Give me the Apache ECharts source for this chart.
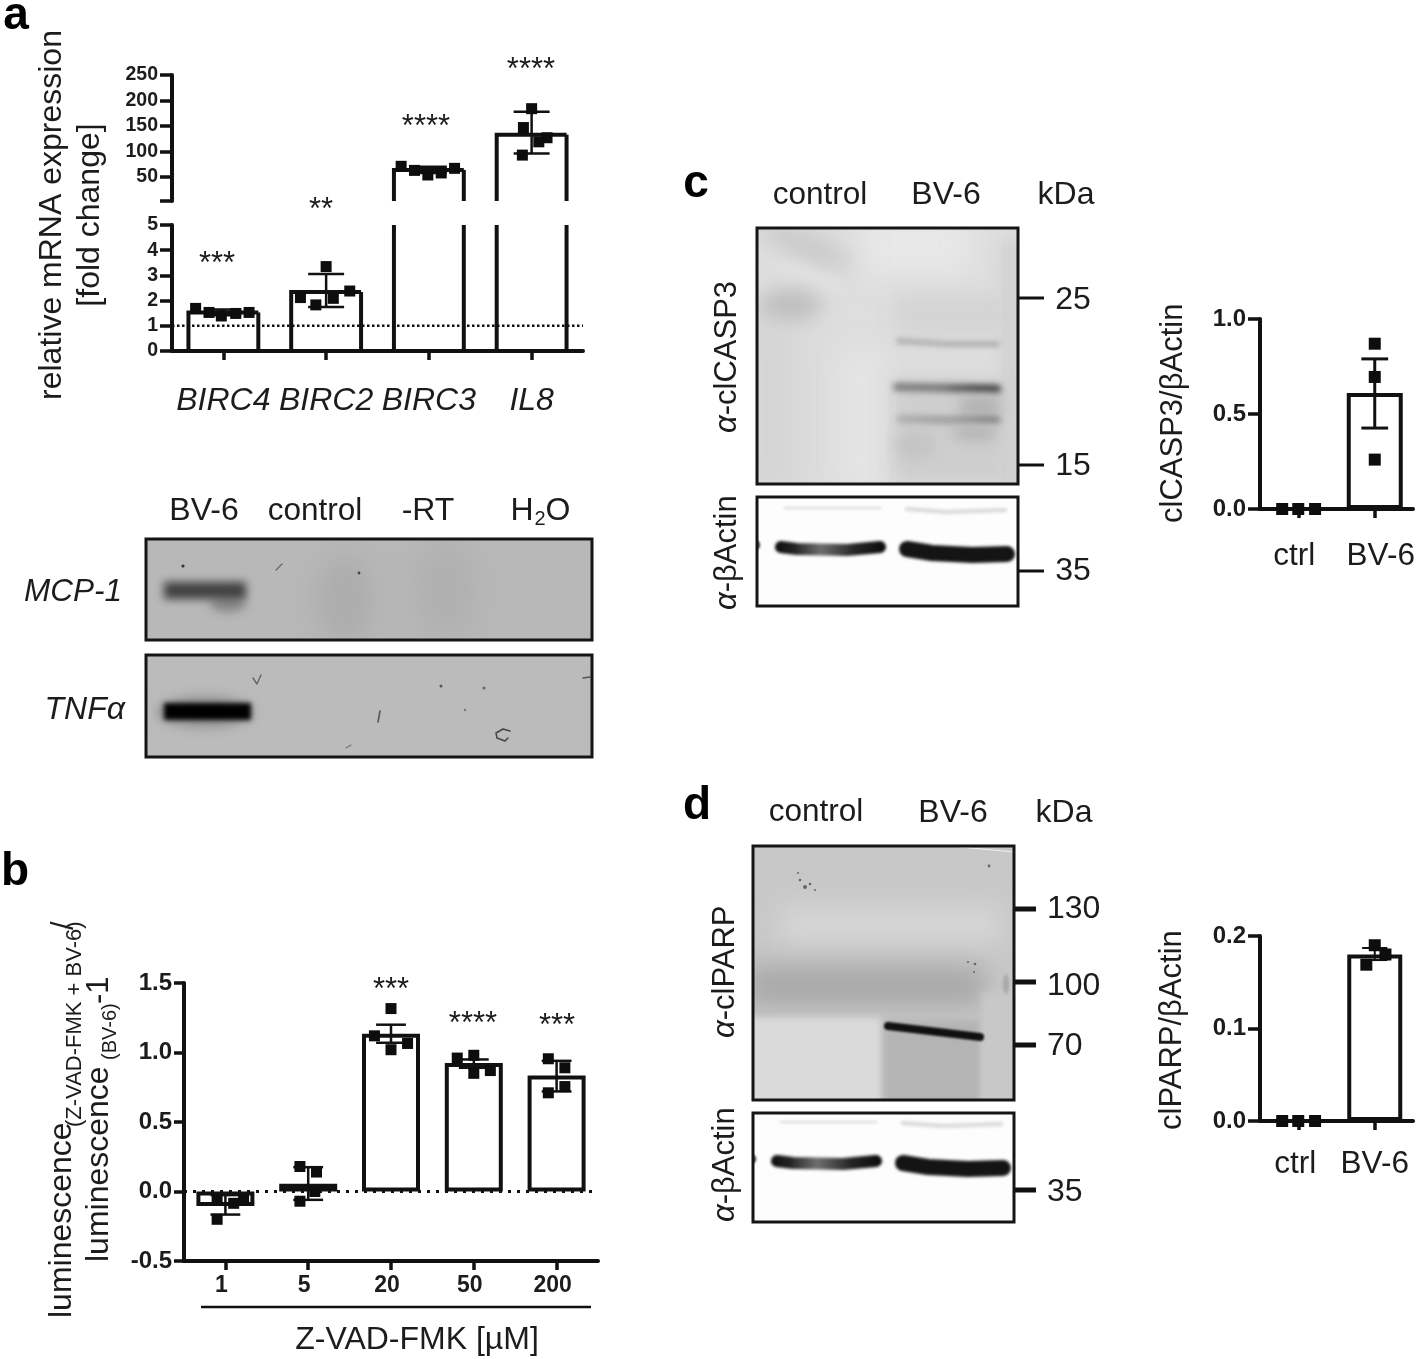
<!DOCTYPE html>
<html><head><meta charset="utf-8">
<script src="https://cdn.jsdelivr.net/npm/echarts@6/dist/echarts.min.js"></script>
<style>html,body{margin:0;padding:0;background:#fff}#c{width:1418px;height:1359px;filter:blur(0.4px)}</style>
</head><body><div id="c"></div>
<script>
// ---------- panel a data ----------
const aCategories = ['BIRC4','BIRC2','BIRC3','IL8'];
const aMeans = [1.53, 2.34, 64, 133];
const aLow   = [1.42, 1.75, 58, 96];
const aHigh  = [1.65, 3.06, 70, 178];
const aPointsLow = [[-0.27,1.69],[-0.14,1.53],[-0.02,1.39],[0.12,1.49],[0.25,1.53],
                    [0.75,2.12],[0.9,1.83],[1,3.35],[1.07,2.09],[1.23,2.38]];
const aPointsHighX = [1.73,1.86,1.99,2.12,2.25, 3,2.92,3.15,3.07,2.91];
const aPointsHighY = [71,63,54,58,67, 184,147,127,119,93];
const aRefLine = 1;
const aUpperTicks = [3,50,100,150,200,250];
const aUpperLabels = [50,100,150,200,250];
// ---------- panel b data ----------
const bCategories = ['1','5','20','50','200'];
const bMeans = [-0.105, 0.055, 1.135, 0.925, 0.835];
const bLow   = [-0.166,-0.06, 1.07, 0.89, 0.72];
const bHigh  = [-0.026, 0.175, 1.2, 0.95, 0.94];
const bPoints = [[-0.1,-0.06],[0.1,-0.085],[0.22,-0.06],[-0.1,-0.2],
                 [0.9,0.18],[1.1,0.14],[1.08,0.0],[0.9,-0.07],
                 [2,1.316],[1.8,1.12],[2.2,1.065],[2,1.02],
                 [2.8,0.96],[3,0.98],[3,0.85],[3.2,0.87],
                 [3.9,0.955],[4.1,0.89],[4.1,0.755],[3.9,0.71]];
// ---------- panel c data ----------
const cCategories = ['ctrl','BV-6'];
const cMeans = [0, 0.61];
const cLow   = [0, 0.426];
const cHigh  = [0, 0.79];
const cPoints = [[-0.21,0],[0,0],[0.22,0],[1,0.87],[1,0.695],[1,0.26]];
// ---------- panel d data ----------
const dCategories = ['ctrl','BV-6'];
const dMeans = [0, 0.18];
const dLow   = [0, 0.174];
const dHigh  = [0, 0.187];
const dPoints = [[-0.21,0],[0,0],[0.22,0],[1,0.19],[1.14,0.18],[0.89,0.169]];

const FONT = '"Liberation Sans", Arial, sans-serif';
const INK = '#111';

// ---------- helpers ----------
function T(text, x, y, size, o) {
  o = o || {};
  const align = o.align || 'center';
  const st = {
    text, fill: o.fill || '#1c1c1c',
    font: `${o.italic ? 'italic' : 'normal'} ${o.bold ? 'bold' : 'normal'} ${size}px ${FONT}`,
    fontSize: size, fontFamily: FONT, fontWeight: o.bold ? 'bold' : 'normal', fontStyle: o.italic ? 'italic' : 'normal',
    textAlign: align, textVerticalAlign: 'middle', align: align, verticalAlign: 'middle'
  };
  if (o.rich) st.rich = o.rich;
  return { type: 'text', x, y: o.rot ? y : y + 2, rotation: o.rot ? Math.PI / 2 : 0, silent: true, z: 20, style: st };
}
function frame(x, y, w, h, lw) {
  return { type: 'rect', silent: true, z: 8, shape: { x, y, width: w, height: h },
    style: { fill: 'none', stroke: '#151515', lineWidth: lw || 3 } };
}
function tick(x1, x2, y, lw) {
  return { type: 'line', silent: true, z: 8, shape: { x1, y1: y, x2, y2: y },
    style: { stroke: '#111', lineWidth: lw } };
}
function blot(x, y, w, h, paint) {
  const c = document.createElement('canvas');
  c.width = w; c.height = h;
  const g = c.getContext('2d');
  g.translate(-x, -y);
  paint(g);
  g.filter = 'none';
  return { type: 'image', silent: true, z: 5, style: { image: c, x, y, width: w, height: h } };
}
function soft(g, color, blur, x, y, w, h) {
  g.filter = `blur(${blur}px)`;
  g.fillStyle = color;
  g.fillRect(x, y, w, h);
}
function oval(g, color, blur, cx, cy, rx, ry, rot) {
  g.filter = `blur(${blur}px)`;
  g.fillStyle = color;
  g.beginPath();
  g.ellipse(cx, cy, rx, ry, rot || 0, 0, Math.PI * 2);
  g.fill();
}
function stroke(g, color, lw, pts, blur) {
  g.filter = `blur(${blur || 0.5}px)`;
  g.strokeStyle = color; g.lineWidth = lw; g.lineCap = 'round'; g.lineJoin = 'round';
  g.beginPath();
  pts.forEach((p, i) => i ? g.lineTo(p[0], p[1]) : g.moveTo(p[0], p[1]));
  g.stroke();
}
function hGrad(g, x1, x2, stops) {
  const l = g.createLinearGradient(x1, 0, x2, 0);
  stops.forEach(s => l.addColorStop(s[0], s[1]));
  return l;
}
function actin(g, x, y, w, h, oy) {
  g.filter = 'none'; g.fillStyle = '#fdfdfd'; g.fillRect(x, y, w, h);
  stroke(g, '#e4e4e4', 3, [[x + 28, y + 11 + oy], [x + 123, y + 11 + oy]], 1.2);
  stroke(g, '#dcdcdc', 4.5, [[x + 150, y + 12 + oy], [x + 190, y + 15 + oy], [x + 248, y + 13 + oy]], 1.5);
  oval(g, '#333', 1, x, y + 48 + oy, 3, 4);
  // control band
  stroke(g, hGrad(g, x + 16, x + 130, [[0,'#0c0c0c'],[0.18,'#222'],[0.42,'#6e6e6e'],[0.72,'#252525'],[1,'#090909']]), 12,
    [[x + 24, y + 50 + oy], [x + 40, y + 52 + oy], [x + 90, y + 53 + oy], [x + 123, y + 50 + oy]], 1.4);
  // treated band
  stroke(g, '#141414', 16, [[x + 150, y + 52 + oy], [x + 175, y + 56 + oy], [x + 215, y + 58 + oy], [x + 250, y + 57 + oy]], 1.4);
}

// ---------- gels and blots ----------
const mcpBlot = blot(146, 539, 446, 101, g => {
  g.filter = 'none'; g.fillStyle = '#b8b8b8'; g.fillRect(146, 539, 446, 101);
  oval(g, '#acacac', 14, 345, 600, 28, 45);
  oval(g, '#afafaf', 16, 445, 590, 30, 50);
  oval(g, '#868686', 5, 228, 604, 18, 8);
  soft(g, '#404040', 4, 164, 582, 82, 17);
  oval(g, '#333', 0.4, 183, 566, 1.6, 1.6);
  oval(g, '#444', 0.4, 359, 573, 1.4, 1.4);
  stroke(g, '#666', 1.2, [[276, 570], [282, 564]], 0.4);
});
const tnfBlot = blot(146, 655, 446, 102, g => {
  g.filter = 'none'; g.fillStyle = '#bbbbbb'; g.fillRect(146, 655, 446, 102);
  oval(g, '#8c8c8c', 6, 205, 712, 48, 15);
  soft(g, '#000', 2.6, 164, 703, 87, 17);
  stroke(g, '#666', 1.4, [[253, 678], [257, 684], [261, 675]], 0.4);
  stroke(g, '#555', 1.6, [[380, 711], [378, 722]], 0.4);
  stroke(g, '#444', 1.5, [[510, 731], [503, 729], [496, 733], [497, 738], [505, 741], [508, 738]], 0.3);
  stroke(g, '#555', 1.6, [[583, 678], [590, 677]], 0.4);
  stroke(g, '#777', 1.2, [[346, 748], [351, 745]], 0.4);
  oval(g, '#555', 0.4, 441, 686, 1.5, 1.5);
  oval(g, '#666', 0.4, 484, 688, 1.5, 1.5);
  oval(g, '#777', 0.4, 465, 710, 1.2, 1.2);
});
const cMain = blot(757, 228, 261, 256, g => {
  g.filter = 'none'; g.fillStyle = '#dedede'; g.fillRect(757, 228, 261, 256);
  soft(g, '#d4d4d4', 18, 740, 320, 60, 180);
  soft(g, '#e8e8e8', 16, 860, 215, 110, 60);
  soft(g, '#e4e4e4', 14, 840, 350, 45, 140);
  oval(g, '#cacaca', 10, 805, 245, 50, 14, 0.4);
  oval(g, '#e2e2e2', 6, 810, 278, 40, 7, 0.35);
  oval(g, '#bcbcbc', 10, 790, 305, 32, 15);
  soft(g, '#cecece', 9, 893, 380, 118, 105);
  soft(g, '#d4d4d4', 10, 895, 295, 110, 40);
  soft(g, '#cfcfcf', 8, 1003, 240, 20, 250);
  stroke(g, '#b2b2b2', 6, [[899, 341], [950, 344], [997, 344]], 2.4);
  stroke(g, hGrad(g, 893, 1000, [[0,'#7c7c7c'],[0.45,'#747474'],[0.75,'#404040'],[1,'#383838']]), 8,
    [[897, 387], [950, 388], [997, 389]], 3);
  soft(g, '#b4b4b4', 6, 960, 396, 40, 20);
  stroke(g, hGrad(g, 893, 1000, [[0,'#ababab'],[0.55,'#979797'],[0.85,'#7a7a7a'],[1,'#828282']]), 7,
    [[900, 419], [950, 420], [997, 420]], 3);
  oval(g, '#b6b6b6', 6, 975, 433, 24, 8);
  oval(g, '#c4c4c4', 7, 915, 445, 20, 14);
});
const cActin = blot(757, 497, 261, 109, g => actin(g, 757, 497, 261, 109, 0));
const dMain = blot(753, 846, 261, 254, g => {
  g.filter = 'none'; g.fillStyle = '#c8c8c8'; g.fillRect(753, 846, 261, 254);
  soft(g, '#d6d6d6', 14, 780, 905, 220, 40);
  soft(g, '#a9a9a9', 13, 745, 965, 240, 42);
  soft(g, '#dadada', 3.5, 745, 1018, 137, 90);
  soft(g, '#b4b4b4', 3, 883, 1020, 98, 90);
  soft(g, '#c8c8c8', 3, 982, 992, 40, 115);
  g.filter = 'none';
  stroke(g, '#eeeeee', 1, [[960, 847], [1014, 852]], 0.6);
  stroke(g, '#101010', 8, [[888, 1026], [980, 1037]], 1.2);
  [[805,887,2],[800,880,1.3],[810,884,1.3],[798,873,1],[815,890,1],[989,866,1.4],[975,964,1.3],[968,962,1],[974,972,1]].forEach(s => oval(g, '#666', 0.6, s[0], s[1], s[2], s[2]));
  oval(g, '#a8a8a8', 1.5, 1006, 984, 3, 10);
});
const dActin = blot(753, 1113, 261, 109, g => actin(g, 753, 1113, 261, 109, -2));

// ---------- texts and frames ----------
const alpha = { i: { fontStyle: 'italic', fontSize: 31, fontFamily: FONT, fill: '#1c1c1c' }, n: { fontSize: 31, fontFamily: FONT, fill: '#1c1c1c' } };
const graphics = [
  mcpBlot, tnfBlot, cMain, cActin, dMain, dActin,
  frame(146, 539, 446, 101), frame(146, 655, 446, 102),
  frame(757, 228, 261, 256), frame(757, 497, 261, 109),
  frame(753, 846, 261, 254), frame(753, 1113, 261, 109),
  tick(1019, 1044, 298, 3), tick(1019, 1044, 465, 3), tick(1019, 1044, 571, 3),
  tick(1015, 1036, 909, 5), tick(1015, 1036, 982, 5), tick(1015, 1036, 1045, 5), tick(1015, 1036, 1190, 5),
  { type: 'line', silent: true, z: 8, shape: { x1: 201, y1: 1307, x2: 591, y2: 1307 }, style: { stroke: '#111', lineWidth: 2.5 } },

  T('a', 16, 14, 46, { bold: true, fill: '#000' }),
  T('b', 15, 870, 46, { bold: true, fill: '#000' }),
  T('c', 696, 182, 46, { bold: true, fill: '#000' }),
  T('d', 697, 804, 46, { bold: true, fill: '#000' }),

  T('relative mRNA expression', 52, 215, 32, { rot: true }),
  T('[fold change]', 90, 215, 32, { rot: true }),
  T('***', 217, 262, 31), T('**', 321, 208, 31), T('****', 426, 125, 31), T('****', 531, 68, 31),

  T('BV-6', 204, 509, 32), T('control', 315, 509, 31.5), T('-RT', 428, 509, 32),
  T('H', 522, 509, 32), T('2', 540, 517, 20), T('O', 558, 509, 32),
  T('MCP-1', 122, 590, 31.5, { italic: true, align: 'right' }),
  T('TNFα', 125, 708, 32, { italic: true, align: 'right' }),

  T('luminescence', 62, 1318, 32, { rot: true, align: 'left' }),
  T('(Z-VAD-FMK + BV-6)', 75, 1127, 22, { rot: true, align: 'left' }),
  T('/', 64, 930, 31, { rot: true, align: 'left' }),
  T('luminescence', 99, 1262, 32, { rot: true, align: 'left' }),
  T('(BV-6)', 110, 1060, 20, { rot: true, align: 'left' }),
  T('-1', 99, 1004, 31, { rot: true, align: 'left' }),
  T('***', 391, 988, 31), T('****', 473, 1022, 31), T('***', 557, 1024, 31),
  T('Z-VAD-FMK [µM]', 417, 1338, 32),

  T('control', 820, 193, 31.5), T('BV-6', 946, 193, 32), T('kDa', 1066, 193, 32),
  T('25', 1073, 298, 32), T('15', 1073, 464, 32), T('35', 1073, 569, 32),
  T('{i|α}{n|-clCASP3}', 727, 433, 31, { rot: true, align: 'left', rich: alpha }),
  T('{i|α}{n|-βActin}', 727, 610, 31, { rot: true, align: 'left', rich: alpha }),
  T('clCASP3/βActin', 1173, 523, 31, { rot: true, align: 'left' }),

  T('control', 816, 810, 31.5), T('BV-6', 953, 811, 32), T('kDa', 1064, 811, 32),
  T('130', 1047, 907, 32, { align: 'left' }), T('100', 1047, 984, 32, { align: 'left' }),
  T('70', 1047, 1044, 32, { align: 'left' }), T('35', 1047, 1190, 32, { align: 'left' }),
  T('{i|α}{n|-clPARP}', 725, 1038, 31, { rot: true, align: 'left', rich: alpha }),
  T('{i|α}{n|-βActin}', 725, 1222, 31, { rot: true, align: 'left', rich: alpha }),
  T('clPARP/βActin', 1172, 1130, 31, { rot: true, align: 'left' })
];

// ---------- axes ----------
const grids = [
  { left: 172, top: 75, width: 411, height: 126 },
  { left: 172, top: 225, width: 411, height: 126 },
  { left: 184, top: 983, width: 414, height: 278 },
  { left: 1260, top: 319, width: 153, height: 190 },
  { left: 1260, top: 936, width: 153, height: 185 }
];
function catAxis(gridIndex, data, size, o) {
  o = o || {};
  return {
    type: 'category', gridIndex, data, position: 'bottom',
    axisLine: { show: !o.hide, onZero: false, lineStyle: { color: INK, width: 4 } },
    axisTick: { show: !o.hide, alignWithLabel: true, length: o.tick || 9, lineStyle: { color: INK, width: 3.5 } },
    axisLabel: { show: !o.hide, interval: 0, margin: o.margin || 14, fontSize: size, fontFamily: FONT, color: '#1c1c1c',
      fontStyle: o.italic ? 'italic' : 'normal', fontWeight: o.bold ? 'bold' : 'normal' },
    splitLine: { show: false }
  };
}
function hiddenX(gridIndex, n) {
  return { type: 'value', gridIndex, min: -0.5, max: n - 0.5, show: false, splitLine: { show: false } };
}
function valAxis(gridIndex, size, o) {
  const tickLen = o.tick || 12;
  const a = {
    type: 'value', gridIndex, min: o.min, max: o.max, position: 'left',
    axisLine: { show: true, onZero: false, lineStyle: { color: INK, width: 4 } },
    axisTick: { show: true, length: tickLen, lineStyle: { color: INK, width: 3.5 } },
    axisLabel: { show: true, margin: tickLen + 2, fontSize: size, fontWeight: 'bold', fontFamily: FONT, color: '#1c1c1c' },
    splitLine: { show: false }
  };
  if (o.interval) a.interval = o.interval;
  if (o.fixed) a.axisLabel.formatter = v => v.toFixed(1);
  if (o.ticks) { a.axisTick.customValues = o.ticks; a.axisLabel.customValues = o.labels; }
  return a;
}
const xAxes = [
  catAxis(0, aCategories, 32, { hide: true }), hiddenX(0, 4),
  catAxis(1, aCategories, 32, { italic: true, margin: 34 }), hiddenX(1, 4),
  catAxis(2, bCategories.map(v => ({ value: v, textStyle: { padding: [0, 8, 0, 0] } })), 23, { bold: true, margin: 13 }), hiddenX(2, 5),
  catAxis(3, [{ value: cCategories[0], textStyle: { padding: [0, 8, 0, 0] } }, { value: cCategories[1], textStyle: { padding: [0, 0, 0, 12] } }], 31.5, { margin: 31 }), hiddenX(3, 2),
  catAxis(4, [{ value: dCategories[0], textStyle: { padding: [0, 6, 0, 0] } }, dCategories[1]], 31.5, { margin: 27 }), hiddenX(4, 2)
];
const yAxes = [
  valAxis(0, 19.5, { min: 3, max: 250, ticks: aUpperTicks, labels: aUpperLabels }),
  valAxis(1, 19.5, { min: 0, max: 5, interval: 1 }),
  valAxis(2, 24, { min: -0.5, max: 1.5, interval: 0.5, fixed: true, tick: 10 }),
  valAxis(3, 24, { min: 0, max: 1, interval: 0.5, fixed: true }),
  valAxis(4, 24, { min: 0, max: 0.2, interval: 0.1, fixed: true })
];

// ---------- series builders ----------
function barSeries(g, data, width) {
  return { type: 'bar', xAxisIndex: g * 2, yAxisIndex: g, data, barWidth: width, z: 2, clip: false,
    itemStyle: { color: '#fff', borderColor: INK, borderWidth: 4 } };
}
function scatter(g, data, size) {
  return { type: 'scatter', xAxisIndex: g * 2 + 1, yAxisIndex: g, data, symbol: 'rect', symbolSize: size, z: 6, clip: false,
    itemStyle: { color: '#0d0d0d', opacity: 1 } };
}
function errorBars(g, xs, low, high, capHalf, lw) {
  const data = xs.map((x, i) => [x, low[i], high[i]]).filter(d => d[2] > d[1]);
  return { type: 'custom', xAxisIndex: g * 2 + 1, yAxisIndex: g, data, z: 5, clip: false,
    encode: { x: 0, y: [1, 2] },
    renderItem(p, api) {
      const x = api.value(0), lo = api.value(1), hi = api.value(2);
      const line = (a, b) => {
        const A = api.coord(a), B = api.coord(b);
        return { type: 'line', shape: { x1: A[0], y1: A[1], x2: B[0], y2: B[1] },
          style: { stroke: INK, lineWidth: lw || 2.5, fill: 'none' } };
      };
      return { type: 'group', children: [
        line([x, lo], [x, hi]),
        line([x - capHalf, lo], [x + capHalf, lo]),
        line([x - capHalf, hi], [x + capHalf, hi])
      ] };
    } };
}
// open-ended outline for bars crossing the broken axis
function brokenBars(g, xs, values, floor, ceil) {
  const data = xs.map((x, i) => [x, values[i]]).filter(d => d[1] > floor);
  const half = 0.34;
  return { type: 'custom', xAxisIndex: g * 2 + 1, yAxisIndex: g, data, z: 2, clip: false,
    encode: { x: 0, y: 1 },
    renderItem(p, api) {
      const x = api.value(0), v = api.value(1);
      const top = Math.min(v, ceil);
      const pts = [[x - half, floor], [x - half, top]];
      if (v <= ceil) pts.push([x + half, top]);
      const right = [[x + half, top], [x + half, floor]];
      const mk = list => ({ type: 'polyline', shape: { points: list.map(q => api.coord(q)) },
        style: { stroke: INK, lineWidth: 4, fill: 'none' } });
      return { type: 'group', children: [mk(pts), mk(right)] };
    } };
}
function dotted(g, x1, x2, y, dash, width) {
  return { type: 'line', xAxisIndex: g * 2 + 1, yAxisIndex: g, data: [[x1, y], [x2, y]], showSymbol: false, symbol: 'none', z: 4,
    lineStyle: { color: INK, width, type: dash } };
}
const idx = n => Array.from({ length: n }, (_, i) => i);
const upperPoints = aPointsHighX.map((x, i) => [x, aPointsHighY[i]]);

const series = [
  brokenBars(0, idx(4), aMeans, 3, 250),
  errorBars(0, [2, 3], aLow.slice(2), aHigh.slice(2), 0.175),
  scatter(0, upperPoints, 11),
  brokenBars(1, idx(4), aMeans, 0, 5),
  errorBars(1, [0, 1], aLow.slice(0, 2), aHigh.slice(0, 2), 0.175),
  dotted(1, -0.5, 3.5, aRefLine, [2.5, 2.5], 2.5),
  scatter(1, aPointsLow, 11),
  barSeries(2, bMeans, 58),
  dotted(2, -0.5, 4.45, 0, [3, 6], 3),
  errorBars(2, idx(5), bLow, bHigh, 0.18),
  scatter(2, bPoints, 11),
  barSeries(3, cMeans, 56),
  errorBars(3, idx(2), cLow, cHigh, 0.175, 3),
  scatter(3, cPoints, 12),
  barSeries(4, dMeans, 55),
  errorBars(4, idx(2), dLow, dHigh, 0.165, 2),
  scatter(4, dPoints, 12)
];

const chart = echarts.init(document.getElementById('c'), null, { renderer: 'canvas', width: 1418, height: 1359 });
chart.setOption({
  backgroundColor: '#fff', animation: false,
  grid: grids, xAxis: xAxes, yAxis: yAxes, series, graphic: { elements: graphics }
});
</script></body></html>
